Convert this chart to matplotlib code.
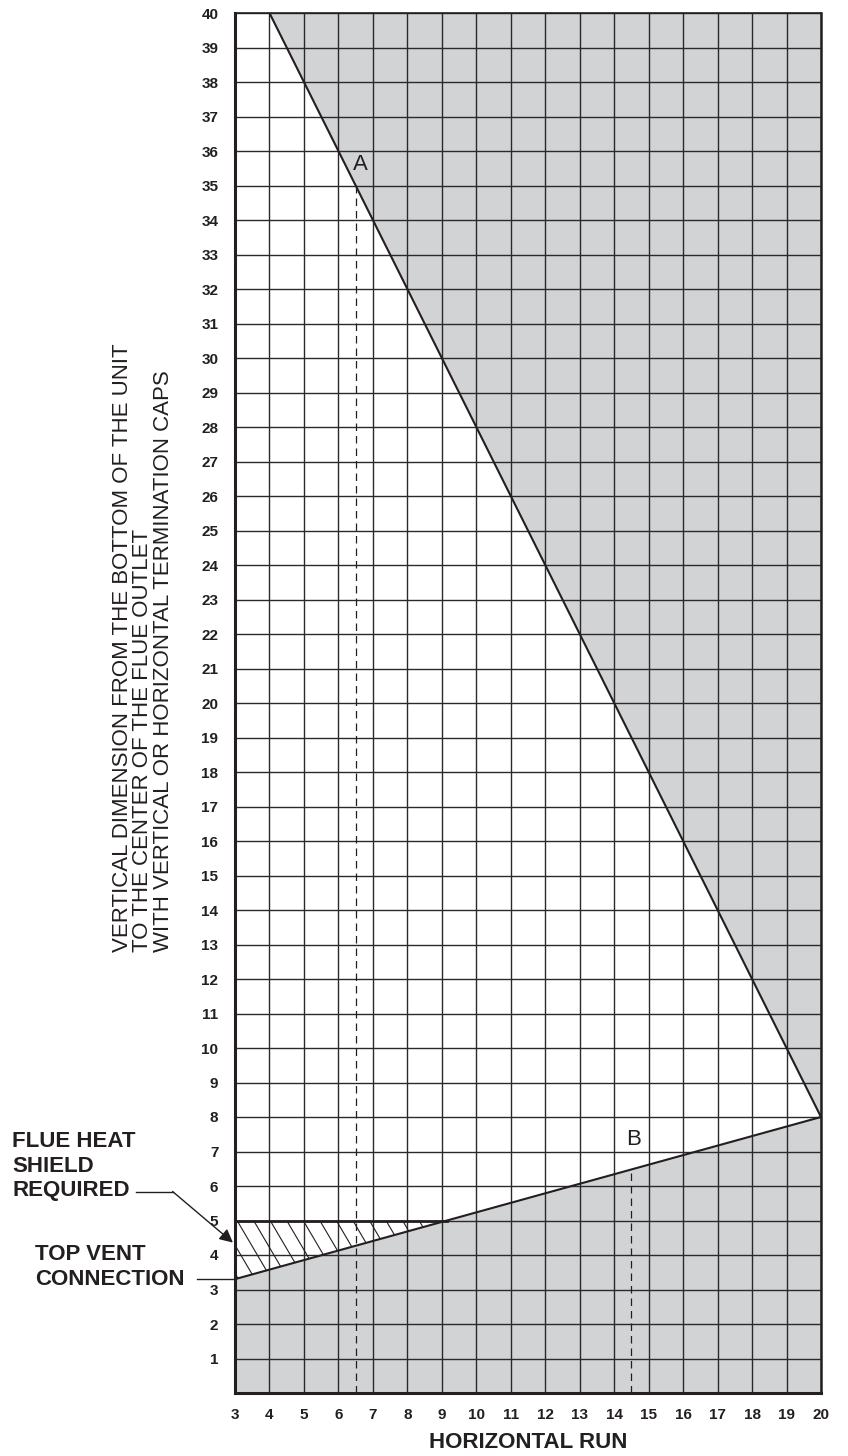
import matplotlib
matplotlib.use('Agg')
import matplotlib.pyplot as plt
from matplotlib.patches import Polygon
import numpy as np

plt.rcParams['font.family'] = ['Liberation Sans', 'DejaVu Sans']

# chart values
x_ticks = list(range(3, 21))
y_ticks = list(range(1, 41))
upper_x = [4, 20]
upper_y = [40, 8]
lower_x = [3, 20]
lower_y = [3.3, 8]
shield_y = 5
dash_x = [6.5, 14.5]
labels = ['A', 'B']
label_pos = [(6.65, 35.6), (14.55, 7.35)]
ylabel_text = ('VERTICAL DIMENSION FROM THE BOTTOM OF THE UNIT\n'
               'TO THE CENTER OF THE FLUE OUTLET\n'
               'WITH VERTICAL OR HORIZONTAL TERMINATION CAPS')

ink = '#231f20'
gray = '#d1d3d4'

fig = plt.figure(figsize=(8.48, 14.56), dpi=100)
ax = fig.add_axes([235 / 848, 1 - 1393 / 1456, (821 - 235) / 848, (1393 - 13) / 1456])
ax.set_xlim(3, 20)
ax.set_ylim(0, 40)

# shaded (not allowed) regions
ax.fill([upper_x[0], 20, upper_x[1]], [40, 40, upper_y[1]], color=gray, lw=0, zorder=0.5)
ax.fill([3, 20, lower_x[1], lower_x[0]], [0, 0, lower_y[1], lower_y[0]], color=gray, lw=0, zorder=0.5)

# grid
ax.set_xticks(x_ticks)
ax.set_yticks(y_ticks)
ax.grid(True, color='#2a2a2a', lw=1.0)
ax.tick_params(length=0)
for lab in ax.get_xticklabels() + ax.get_yticklabels():
    lab.set_fontweight('bold')
    lab.set_fontsize(11)
    lab.set_color(ink)
ax.tick_params(axis='x', pad=11)
ax.tick_params(axis='y', pad=12)

# boundary lines
ax.plot(upper_x, upper_y, color=ink, lw=1.5, zorder=3)
ax.plot(lower_x, lower_y, color=ink, lw=1.5, zorder=3)

# flue heat shield region (hatched)
slope = (lower_y[1] - lower_y[0]) / (lower_x[1] - lower_x[0])
x_cross = lower_x[0] + (shield_y - lower_y[0]) / slope
shield = Polygon([(3, shield_y), (x_cross, shield_y), (3, lower_y[0])], closed=True,
                 facecolor='none', edgecolor='none')
ax.add_patch(shield)
for x0 in np.arange(3.06 - 0.96, x_cross + 0.5, 0.48):
    hl, = ax.plot([x0, x0 + 2.5 / 1.7], [shield_y, shield_y - 2.5], color=ink, lw=0.8, zorder=2)
    hl.set_clip_path(shield)
ax.plot([3, x_cross], [shield_y, shield_y], color=ink, lw=2, zorder=3)

# dashed reference lines to A and B
tops = [np.interp(dash_x[0], upper_x, upper_y), np.interp(dash_x[1], lower_x, lower_y)]
for xd, yt in zip(dash_x, tops):
    ax.plot([xd, xd], [0, yt], color=ink, lw=0.9, dashes=(6, 4), zorder=2.5)
for lab, (lx, ly) in zip(labels, label_pos):
    ax.text(lx, ly, lab, fontsize=16, color=ink, ha='center', va='center', zorder=4)

for side, w in [('left', 2.2), ('bottom', 2.2), ('right', 1.8), ('top', 1.2)]:
    ax.spines[side].set_linewidth(w)
    ax.spines[side].set_color(ink)

ax.set_xlabel('HORIZONTAL RUN', fontsize=16, fontweight='bold', color=ink, labelpad=7)

fig.text(143 / 848, 1 - 648 / 1456, ylabel_text, rotation=90, ha='center', va='center',
         multialignment='left', fontsize=16, color=ink, linespacing=0.95)

# leaders
fig.text(12 / 848, 1 - 1166 / 1456, 'FLUE HEAT\nSHIELD\nREQUIRED', ha='left', va='center',
         fontsize=16, fontweight='bold', color=ink, linespacing=1.2)
ax.plot([0.14, 1.19], [5.84, 5.84], color=ink, lw=1, clip_on=False)
ax.annotate('', xy=(2.94, 4.36), xytext=(1.19, 5.84), annotation_clip=False,
            arrowprops=dict(arrowstyle='-|>', color=ink, lw=1, mutation_scale=20,
                            shrinkA=0, shrinkB=0))

fig.text(35 / 848, 1 - 1267 / 1456, 'TOP VENT\nCONNECTION', ha='left', va='center',
         fontsize=16, fontweight='bold', color=ink, linespacing=1.2)
ax.plot([1.89, 3], [lower_y[0], lower_y[0]], color=ink, lw=1, clip_on=False)

fig.savefig('out.png', dpi=100)
